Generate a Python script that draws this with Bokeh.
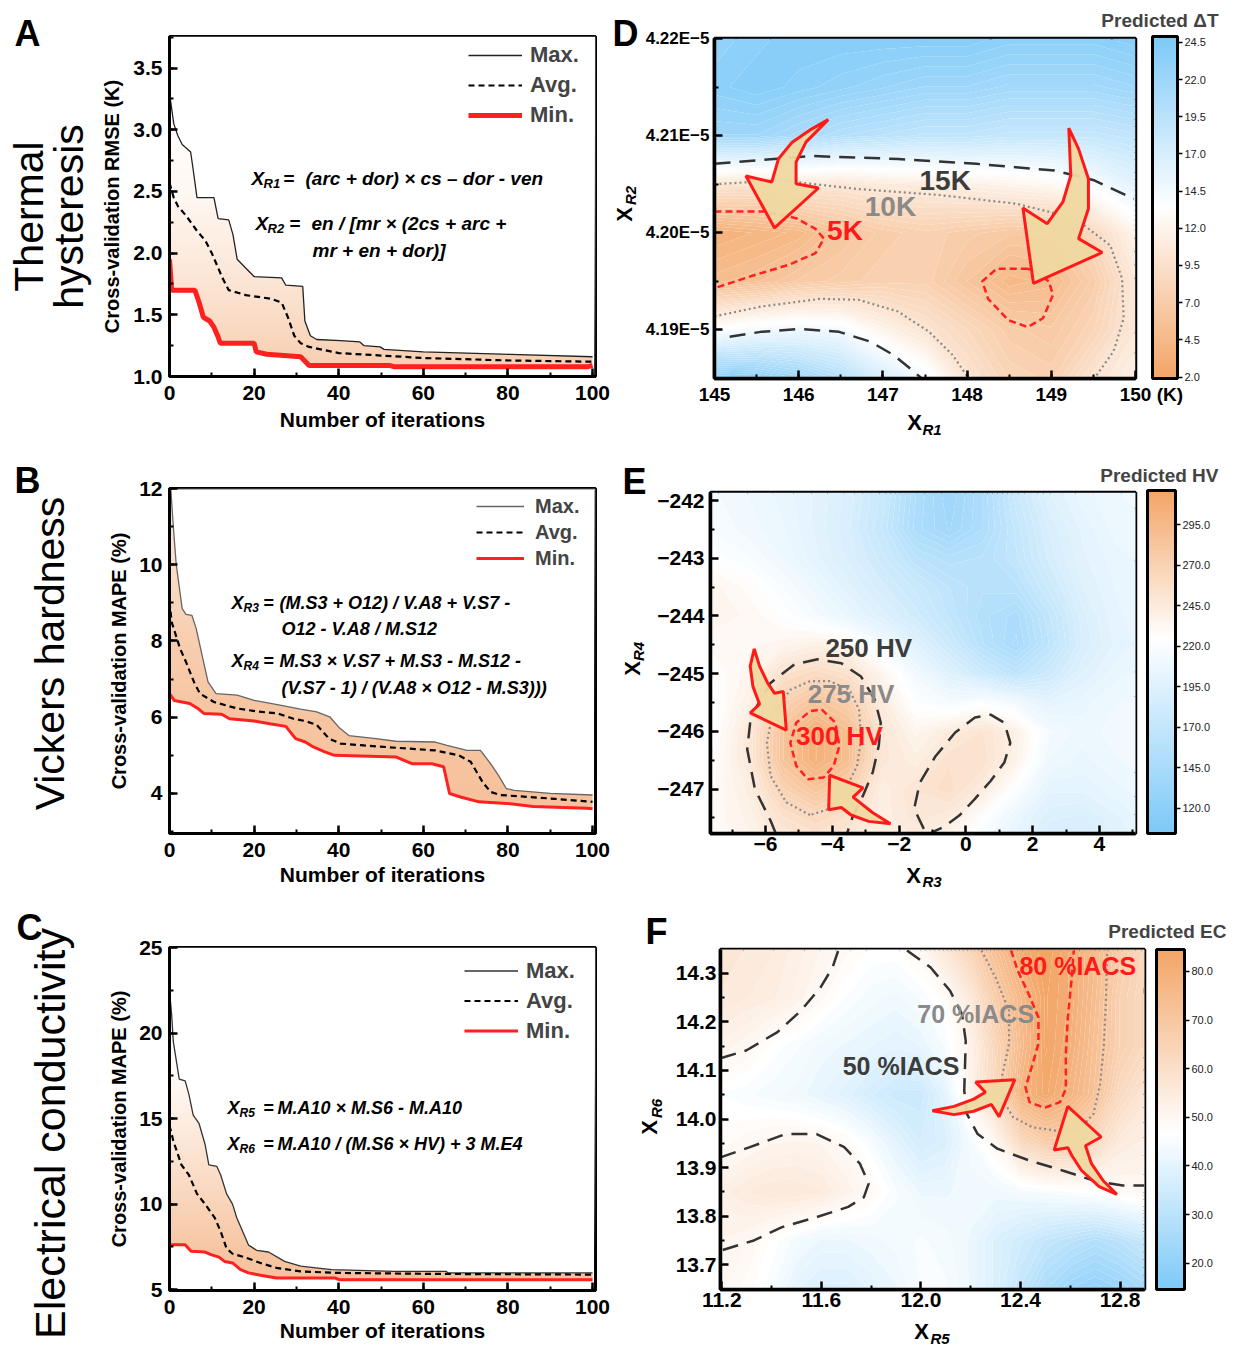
import numpy as np
from bokeh.plotting import figure
from bokeh.models import (Label, Legend, LegendItem, ColorBar, LinearColorMapper,
                          FixedTicker, SingleIntervalTicker, PrintfTickFormatter, Span)
from bokeh.layouts import column, row
from bokeh.embed import file_html
from bokeh.resources import INLINE

SANS = "Liberation Sans"
NARROW = "Liberation Sans Narrow, Liberation Sans"

# ---------------- data: convergence curves ----------------
A_max_x = [0, 1, 2, 3, 5, 5.5, 6.5, 10.5, 11.5, 14, 15, 16, 18, 20, 26.5, 27.5, 31.5, 32, 33.3, 34.8, 40.4, 45, 46, 49.8, 50.7, 60, 80.6, 100]
A_max_y = [3.30, 3.05, 2.95, 2.88, 2.82, 2.70, 2.45, 2.45, 2.28, 2.27, 2.15, 1.95, 1.88, 1.81, 1.80, 1.74, 1.73, 1.45, 1.33, 1.30, 1.29, 1.28, 1.25, 1.24, 1.22, 1.20, 1.18, 1.16]
A_avg_x = [0, 1, 2, 4, 6.5, 8.5, 10, 11.5, 12.5, 14, 18, 24, 26.5, 28, 29.5, 31, 33, 40, 50, 60, 80, 100]
A_avg_y = [2.57, 2.45, 2.38, 2.30, 2.18, 2.10, 2.00, 1.88, 1.80, 1.70, 1.66, 1.63, 1.60, 1.48, 1.33, 1.27, 1.24, 1.19, 1.17, 1.15, 1.13, 1.12]
A_min_x = [0, 0.5, 6, 7, 8, 9.5, 10.5, 11.5, 12, 20, 20.5, 23, 27, 31, 33, 52, 53, 99, 100]
A_min_y = [1.95, 1.70, 1.70, 1.60, 1.48, 1.45, 1.40, 1.32, 1.27, 1.27, 1.20, 1.18, 1.17, 1.16, 1.09, 1.09, 1.08, 1.08, 1.09]

B_max_x = [0, 0.3, 0.9, 1.6, 3.0, 3.9, 5.3, 6.3, 7.7, 9.1, 11, 16, 20, 25.5, 31, 34.8, 38, 40, 42.4, 48.8, 53.5, 62.8, 65.6, 70.3, 73.5, 75.9, 77.8, 79.6, 81.5, 90, 100]
B_max_y = [12.3, 12.0, 11.0, 10.0, 8.85, 8.7, 8.67, 8.33, 7.63, 6.93, 6.62, 6.58, 6.44, 6.33, 6.21, 6.14, 6.0, 5.74, 5.52, 5.44, 5.37, 5.35, 5.26, 5.13, 5.13, 4.78, 4.47, 4.13, 4.08, 4.0, 3.96]
B_avg_x = [0, 0.5, 2.5, 3.9, 5.8, 7.2, 10.5, 16, 20.8, 25.5, 29.3, 32.1, 34.8, 37.7, 40.4, 46, 53.5, 62.8, 68.4, 71.2, 74, 75.9, 78.2, 91, 100]
B_avg_y = [9.03, 8.5, 7.8, 7.45, 6.92, 6.62, 6.4, 6.23, 6.15, 6.1, 5.96, 5.9, 5.8, 5.44, 5.31, 5.26, 5.2, 5.13, 5.0, 4.83, 4.3, 4.04, 3.96, 3.86, 3.78]
B_min_x = [0, 1.1, 4.8, 6.7, 8.1, 12.3, 14.2, 20, 23.7, 27.5, 29.8, 32.1, 34, 36.7, 39, 53.5, 57.3, 62, 64.8, 66.2, 69, 73.2, 79.6, 86, 98.6, 100]
B_min_y = [6.62, 6.44, 6.36, 6.23, 6.1, 6.08, 5.96, 5.9, 5.83, 5.76, 5.44, 5.35, 5.22, 5.09, 5.0, 4.96, 4.78, 4.78, 4.7, 4.0, 3.9, 3.78, 3.74, 3.66, 3.61, 3.6]

C_max_x = [0, 0.5, 0.9, 2.3, 3.7, 4.6, 5.6, 7, 8.4, 9.3, 11.2, 12.1, 13.5, 14.9, 15.9, 17.3, 18.7, 20.6, 23.4, 27.2, 31, 34.6, 38.3, 53.2, 65.4, 65.8, 100]
C_max_y = [22.5, 21.1, 19.5, 17.3, 17.2, 16.4, 15.2, 14.7, 13.5, 12.3, 12.2, 11.7, 10.6, 10.0, 9.2, 8.4, 7.6, 7.3, 7.2, 6.65, 6.37, 6.27, 6.17, 6.07, 6.07, 5.98, 5.98]
C_avg_x = [0, 0.9, 2.8, 4.6, 6.5, 8.4, 10.7, 12.1, 13.5, 14.9, 17.7, 21.5, 25.3, 31, 39.2, 62.6, 100]
C_avg_y = [14.6, 13.7, 12.3, 11.7, 10.6, 10.0, 9.2, 8.4, 7.4, 7.1, 6.9, 6.56, 6.27, 6.07, 5.98, 5.92, 5.88]
C_min_x = [0, 3.7, 5.1, 8.4, 9.8, 11.7, 13, 14.9, 16.8, 18.7, 21.5, 25.3, 39.2, 40.1, 100]
C_min_y = [7.63, 7.63, 7.24, 7.2, 7.05, 6.9, 6.65, 6.56, 6.17, 5.98, 5.84, 5.68, 5.68, 5.58, 5.58]

# ---------------- data: heat maps (grid nodes, rows listed top -> bottom) ----------------
D_x_nodes = [145.0, 145.5, 146.0, 146.5, 147.0, 147.5, 148.0, 148.5, 149.0, 149.5, 150.0]
D_y_nodes = [4.220, 4.215, 4.210, 4.205, 4.200, 4.195, 4.190, 4.185]
D_z = [
    [23.0, 23.5, 24.0, 24.0, 24.0, 24.0, 24.0, 23.5, 23.5, 23.5, 24.0],
    [23.5, 24.0, 23.5, 23.0, 22.5, 22.0, 22.0, 21.5, 21.5, 21.5, 22.0],
    [22.0, 22.0, 21.0, 20.0, 19.5, 19.0, 19.0, 18.5, 18.5, 18.5, 19.0],
    [10.0, 9.8, 10.5, 10.3, 10.8, 11.0, 11.5, 12.0, 12.5, 14.0, 16.0],
    [3.5, 4.0, 4.5, 6.0, 7.0, 7.5, 7.0, 6.5, 6.5, 8.5, 12.0],
    [5.0, 5.5, 6.5, 7.0, 7.5, 7.5, 6.0, 4.5, 5.0, 7.0, 10.5],
    [13.5, 14.5, 15.0, 14.5, 12.0, 10.0, 8.5, 7.0, 6.5, 8.0, 10.5],
    [24.0, 23.5, 22.0, 20.0, 17.0, 14.5, 10.0, 8.0, 7.5, 10.0, 11.5],
]
E_x_nodes = [-7.65, -6.5, -5.5, -4.5, -3.5, -2.5, -1.5, -0.5, 0.5, 1.5, 2.5, 3.5, 4.5, 5.5]
E_y_nodes = [-241.86, -242.5, -243.0, -243.5, -244.0, -244.5, -245.0, -245.5, -246.0, -246.5, -247.0, -247.5, -248.0]
E_z = [
    [215, 210, 205, 198, 190, 175, 150, 135, 150, 175, 195, 205, 210, 212],
    [218, 212, 207, 198, 188, 172, 148, 138, 150, 170, 188, 200, 208, 210],
    [225, 218, 210, 200, 190, 178, 162, 155, 158, 168, 185, 198, 205, 208],
    [235, 228, 218, 208, 196, 185, 175, 165, 158, 160, 178, 195, 203, 206],
    [236, 232, 225, 215, 205, 193, 182, 168, 155, 148, 168, 190, 202, 205],
    [230, 232, 235, 240, 235, 215, 196, 178, 158, 145, 165, 188, 200, 205],
    [225, 235, 255, 262, 255, 235, 212, 195, 178, 165, 178, 195, 205, 208],
    [222, 240, 270, 285, 275, 245, 222, 215, 222, 212, 200, 205, 210, 212],
    [222, 248, 285, 305, 290, 250, 235, 245, 252, 240, 215, 208, 212, 212],
    [225, 248, 285, 305, 290, 250, 242, 255, 255, 238, 210, 205, 210, 212],
    [228, 242, 270, 285, 272, 242, 252, 258, 245, 222, 200, 200, 205, 210],
    [230, 238, 255, 262, 255, 242, 250, 245, 225, 205, 192, 190, 198, 205],
    [230, 235, 245, 250, 245, 240, 242, 232, 215, 200, 188, 185, 195, 202],
]
F_x_nodes = [11.195, 11.3, 11.4, 11.5, 11.6, 11.7, 11.8, 11.9, 12.0, 12.1, 12.2, 12.3, 12.4, 12.5, 12.6, 12.7, 12.8, 12.9]
F_y_nodes = [14.35, 14.25, 14.15, 14.05, 13.95, 13.85, 13.75, 13.649]
F_z = [
    [57, 56, 55, 53, 51, 49, 47, 47, 50, 57, 65, 73, 81, 85, 81, 75, 68, 63],
    [56, 55, 54, 52, 49, 46, 44, 43, 45, 48, 56, 68, 76, 84, 81, 74, 66, 62],
    [52, 50, 47, 45, 43, 42, 41, 40, 41, 45, 52, 64, 75, 84, 80, 73, 66, 62],
    [46, 45, 44, 43, 41, 39, 36, 34, 34, 40, 52, 63, 78, 83, 78, 72, 62, 57],
    [48, 49.5, 51, 51.5, 51, 49, 45, 40, 36, 38, 44, 50, 62, 67, 67, 62, 55, 53],
    [53, 55, 56, 56, 55, 52, 49, 45, 42, 42, 43, 43, 44, 45, 46, 47, 49, 50],
    [51, 50, 47, 44, 42, 42, 43, 44, 45, 44, 42, 38, 35, 32, 30, 28, 30, 33],
    [50, 48, 45, 40, 38, 38, 40, 42, 45, 45, 42, 38, 32, 26, 22, 20, 22, 25],
]

# contour paths
D_c15_top_x = [145.0, 146.16, 147.18, 148.11, 149.04, 149.51, 149.88, 149.98]
D_c15_top_y = [4.2071, 4.2079, 4.2076, 4.2071, 4.2064, 4.2054, 4.2039, 4.2035]
D_c10_top_x = [145.0, 145.78, 146.71, 147.65, 148.58, 149.28, 149.70, 149.84, 149.86, 149.74, 149.51]
D_c10_top_y = [4.2050, 4.2054, 4.2045, 4.2039, 4.2030, 4.2015, 4.1987, 4.1953, 4.1912, 4.1878, 4.1850]
D_c10_bot_x = [145.0, 145.55, 146.25, 146.71, 147.18, 147.55, 147.83, 148.02]
D_c10_bot_y = [4.1914, 4.1924, 4.1932, 4.1931, 4.1919, 4.1898, 4.1874, 4.1850]
D_c15_bot_x = [145.18, 145.55, 146.02, 146.48, 146.85, 147.13, 147.37, 147.46]
D_c15_bot_y = [4.1893, 4.1898, 4.1901, 4.1898, 4.1888, 4.1874, 4.1857, 4.1850]
D_c5_left_x = [145.0, 145.6, 145.97, 146.2, 146.3, 146.2, 145.88, 145.46, 145.0]
D_c5_left_y = [4.2022, 4.2022, 4.2015, 4.2004, 4.1994, 4.1979, 4.1967, 4.1956, 4.1943]
D_c5_right_x = [148.72, 148.35, 148.18, 148.25, 148.49, 148.72, 148.90, 149.02, 148.97, 148.81, 148.72]
D_c5_right_y = [4.1963, 4.1963, 4.1950, 4.1932, 4.1910, 4.1903, 4.1912, 4.1936, 4.1950, 4.1960, 4.1963]

E_c250a_x = [-5.70, -5.85, -6.32, -6.55, -6.44, -5.85, -5.14, -4.44, -3.73, -3.14, -2.73, -2.55, -2.61, -2.79, -3.08, -3.38, -3.55]
E_c250a_y = [-247.76, -247.55, -247.0, -246.31, -245.74, -245.16, -244.84, -244.75, -244.82, -245.05, -245.45, -245.85, -246.25, -246.71, -247.11, -247.46, -247.75]
E_c275_x = [-4.67, -5.38, -5.85, -5.96, -5.79, -5.26, -4.67, -4.08, -3.49, -3.20, -3.14, -3.26, -3.61, -4.08, -4.67]
E_c275_y = [-247.45, -247.23, -246.77, -246.20, -245.68, -245.28, -245.13, -245.13, -245.28, -245.62, -246.14, -246.60, -247.00, -247.34, -247.45]
E_c300_x = [-4.32, -3.91, -3.79, -3.96, -4.26, -4.73, -5.08, -5.26, -5.08, -4.67, -4.32]
E_c300_y = [-245.62, -245.85, -246.25, -246.60, -246.80, -246.83, -246.60, -246.20, -245.85, -245.65, -245.62]
E_c250b_x = [-1.26, -1.55, -1.38, -0.91, -0.32, 0.27, 0.74, 1.15, 1.33, 1.15, 0.74, 0.27, -0.20, -0.67, -1.02]
E_c250b_y = [-247.69, -247.34, -246.89, -246.43, -246.02, -245.76, -245.71, -245.85, -246.20, -246.54, -246.86, -247.17, -247.46, -247.66, -247.75]

F_c50a_x = [11.195, 11.298, 11.424, 11.518, 11.597, 11.645, 11.668]
F_c50a_y = [14.125, 14.141, 14.179, 14.223, 14.271, 14.312, 14.347]
F_c50b_x = [11.944, 12.039, 12.117, 12.165, 12.180, 12.177, 12.174, 12.184, 12.228, 12.307, 12.433, 12.575, 12.701, 12.811, 12.898]
F_c50b_y = [14.347, 14.312, 14.264, 14.216, 14.161, 14.107, 14.059, 14.011, 13.969, 13.939, 13.915, 13.893, 13.872, 13.863, 13.863]
F_c50c_x = [11.195, 11.313, 11.455, 11.581, 11.692, 11.755, 11.790, 11.771, 11.708, 11.581, 11.440, 11.329, 11.195]
F_c50c_y = [13.921, 13.942, 13.969, 13.969, 13.942, 13.908, 13.867, 13.839, 13.819, 13.798, 13.777, 13.750, 13.729]
F_c70_x = [12.243, 12.299, 12.354, 12.354, 12.325, 12.330, 12.370, 12.448, 12.543, 12.638, 12.693, 12.720, 12.735, 12.743, 12.748]
F_c70_y = [14.347, 14.292, 14.223, 14.155, 14.086, 14.038, 14.004, 13.983, 13.976, 13.980, 14.011, 14.072, 14.155, 14.244, 14.347]
F_c80_x = [12.362, 12.389, 12.433, 12.472, 12.472, 12.445, 12.420, 12.436, 12.496, 12.559, 12.582, 12.582, 12.590, 12.606, 12.614]
F_c80_y = [14.347, 14.305, 14.257, 14.209, 14.155, 14.107, 14.065, 14.035, 14.023, 14.035, 14.062, 14.134, 14.209, 14.292, 14.347]

# annotation arrows (outlines in data units)
D_arrow1_x = [146.351, 146.156, 145.923, 145.760, 145.680, 145.373, 145.713, 146.235, 145.969, 145.969, 146.086]
D_arrow1_y = [4.21165, 4.2107, 4.20933, 4.20762, 4.20522, 4.20584, 4.2005, 4.20461, 4.20505, 4.20727, 4.20933]
D_arrow2_x = [149.208, 149.324, 149.441, 149.441, 149.324, 149.604, 148.788, 148.663, 148.952, 149.138, 149.231]
D_arrow2_y = [4.21076, 4.20864, 4.20556, 4.20248, 4.19940, 4.19797, 4.19479, 4.20255, 4.20094, 4.20317, 4.20590]
E_arrow1_x = [-6.34, -6.18, -5.94, -5.73, -5.47, -5.38, -6.46, -6.18, -6.38, -6.46]
E_arrow1_y = [-244.57, -244.87, -245.16, -245.34, -245.31, -245.98, -245.68, -245.53, -245.22, -244.87]
E_arrow2_x = [-4.08, -3.08, -3.38, -2.79, -2.26, -2.91, -3.44, -3.73, -4.11]
E_arrow2_y = [-246.76, -246.98, -247.14, -247.41, -247.60, -247.56, -247.45, -247.32, -247.36]
F_arrow1_x = [12.046, 12.133, 12.212, 12.259, 12.220, 12.377, 12.314, 12.283, 12.212, 12.133]
F_arrow1_y = [14.017, 14.026, 14.041, 14.055, 14.076, 14.081, 14.005, 14.030, 14.016, 14.009]
F_arrow2_x = [12.590, 12.724, 12.661, 12.685, 12.732, 12.787, 12.716, 12.645, 12.606, 12.590, 12.535]
F_arrow2_y = [14.026, 13.963, 13.945, 13.908, 13.873, 13.845, 13.861, 13.894, 13.925, 13.941, 13.936]

D_cbar_ticks = [2.0, 4.5, 7.0, 9.5, 12.0, 14.5, 17.0, 19.5, 22.0, 24.5]
E_cbar_ticks = [120, 145, 170, 195, 220, 245, 270, 295]
F_cbar_ticks = [20, 30, 40, 50, 60, 70, 80]
D_yticks = [4.19, 4.20, 4.21, 4.22]
D_ytick_labels = ["4.19E\u22125", "4.20E\u22125", "4.21E\u22125", "4.22E\u22125"]
E_xticks = [-6, -4, -2, 0, 2, 4]
E_yticks = [-247, -246, -245, -244, -243, -242]
F_xticks = [11.2, 11.6, 12.0, 12.4, 12.8]
F_yticks = [13.7, 13.8, 13.9, 14.0, 14.1, 14.2, 14.3]

# ---------------- helpers ----------------
ORANGE = (243, 165, 102)
BLUE = (125, 201, 248)
PEACH = "#f6c29c"


def color_at(v, lo, hi, c_lo, c_hi, mid):
    f = min(max((v - lo) / (hi - lo), 0.0), 1.0)
    if f <= mid:
        t = f / mid
        c = [c_lo[k] + (255 - c_lo[k]) * t for k in range(3)]
    else:
        t = (f - mid) / (1 - mid)
        c = [255 + (c_hi[k] - 255) * t for k in range(3)]
    return "#%02x%02x%02x" % tuple(int(round(x)) for x in c)


def ramp(c_lo, c_hi, mid, n=256):
    return [color_at(i / (n - 1), 0.0, 1.0, c_lo, c_hi, mid) for i in range(n)]


def base_fig(w, h, xr, yr, bl, br, bt, bb, olw=3):
    p = figure(width=w, height=h, x_range=xr, y_range=yr, output_backend="svg",
               toolbar_location=None, min_border_left=bl, min_border_right=br,
               min_border_top=bt, min_border_bottom=bb)
    p.grid.visible = False
    p.outline_line_color = "black"
    p.outline_line_width = olw
    p.outline_line_alpha = 1.0
    for ax in list(p.xaxis) + list(p.yaxis):
        ax.axis_line_width = olw
        ax.major_tick_in = 8
        ax.major_tick_out = 0
        ax.major_tick_line_width = 2.5
        ax.minor_tick_in = 4
        ax.minor_tick_out = 0
        ax.minor_tick_line_width = 2
        ax.major_label_text_font = SANS
        ax.major_label_text_font_style = "bold"
        ax.major_label_text_color = "black"
        ax.axis_label_text_font = SANS
        ax.axis_label_text_font_style = "bold"
        ax.axis_label_text_color = "black"
    return p


def helper(w, h):
    s = figure(width=w, height=h, x_range=(0, 1), y_range=(0, 1), output_backend="svg",
               toolbar_location=None, min_border=0)
    s.axis.visible = False
    s.grid.visible = False
    s.outline_line_color = None
    return s


def lab(p, fl, fb, xr, yr, text, size, color="black", style="bold", align="center",
        baseline="middle", angle=0.0, font=SANS):
    p.add_layout(Label(x=xr - fl, y=fb - yr, x_units="screen", y_units="screen", text=text,
                       text_font=font, text_font_size="%dpx" % size, text_font_style=style,
                       text_color=color, text_align=align, text_baseline=baseline, angle=angle))


def formula(p, fl, fb, xX, y, sub, xsub, xeq, xrest, rest, size):
    lab(p, fl, fb, xX, y, "X", size, style="bold italic", align="left", font=NARROW)
    lab(p, fl, fb, xsub, y + 5, sub, int(size * 0.7), style="bold italic", align="left", font=NARROW)
    lab(p, fl, fb, xeq, y, "=", size, style="bold", align="left", font=NARROW)
    lab(p, fl, fb, xrest, y, rest, size, style="bold italic", align="left", font=NARROW)


def white_gradient(p, x0, x1, y0, y1, stops_y, stops_t, n=160):
    ys = np.linspace(y0, y1, n)
    alpha = 1.0 - np.interp(ys, stops_y, stops_t)
    img = np.empty((n, 1), dtype=np.uint32)
    v = img.view(dtype=np.uint8).reshape((n, 1, 4))
    v[:, 0, 0] = 255
    v[:, 0, 1] = 255
    v[:, 0, 2] = 255
    v[:, 0, 3] = np.clip(alpha * 255, 0, 255).astype(np.uint8)
    p.image_rgba(image=[img], x=x0, y=y0, dw=x1 - x0, dh=y1 - y0)


def conv_panel(p, mx, my, avx, avy, nx, ny, yr, stops_y, stops_t, max_color, min_w):
    p.patch(list(mx) + list(nx)[::-1], list(my) + list(ny)[::-1], fill_color=PEACH, line_color=None)
    white_gradient(p, 0, 100.7, yr[0], yr[1], stops_y, stops_t)
    r1 = p.line(mx, my, line_color=max_color, line_width=1.3)
    r2 = p.line(avx, avy, line_color="black", line_width=2.2, line_dash="6 4")
    r3 = p.line(nx, ny, line_color="#ff2020", line_width=min_w)
    return r1, r2, r3


def add_legend(p, rs, loc, size, gw, gh, spacing, standoff):
    items = [LegendItem(label="Max.", renderers=[rs[0]]),
             LegendItem(label="Avg.", renderers=[rs[1]]),
             LegendItem(label="Min.", renderers=[rs[2]])]
    lg = Legend(items=items, location=loc, orientation="vertical", glyph_width=gw,
                glyph_height=gh, label_height=gh, spacing=spacing, padding=0, margin=0,
                label_standoff=standoff, label_text_font=SANS, label_text_font_style="bold",
                label_text_font_size="%dpx" % size, border_line_color=None,
                background_fill_alpha=0)
    p.add_layout(lg)


def conv_axes(p, yint, ylabel, fmt, ylab_standoff, xlab_standoff):
    p.xaxis.ticker = SingleIntervalTicker(interval=20, num_minor_ticks=2)
    p.yaxis.ticker = SingleIntervalTicker(interval=yint, num_minor_ticks=2)
    p.yaxis.formatter = PrintfTickFormatter(format=fmt)
    p.axis.major_label_text_font_size = "21px"
    p.xaxis.major_label_standoff = 9
    p.yaxis.major_label_standoff = 7
    p.yaxis.axis_label = ylabel
    p.yaxis.axis_label_text_font_size = "20px"
    p.yaxis.axis_label_standoff = ylab_standoff
    p.xaxis.axis_label = "Number of iterations"
    p.xaxis.axis_label_text_font_size = "21px"
    p.xaxis.axis_label_standoff = xlab_standoff


def heat(p, z, xn, yn, lo, hi, c_lo, c_hi, mid, nlev=56):
    Z = np.array(z, dtype=float)
    xs = np.array(xn, dtype=float)
    ys = np.array(yn, dtype=float)
    if ys[0] > ys[-1]:
        ys = ys[::-1]
        Z = Z[::-1, :]
    levels = np.linspace(min(lo, Z.min()) - 0.01, max(hi, Z.max()) + 0.01, nlev + 1)
    mids = 0.5 * (levels[:-1] + levels[1:])
    cols = [color_at(m, lo, hi, c_lo, c_hi, mid) for m in mids]
    p.contour(xs, ys, Z, levels=list(levels), fill_color=cols, line_color=None)


DARK = dict(line_color="#333333", line_width=2.5, line_dash="16 9")
GRAY = dict(line_color="#8a8a8a", line_width=2.2, line_dash="2 3")
RED = dict(line_color="#ff2020", line_width=2.5, line_dash="7 4")
ARROW = dict(fill_color="#efd8a0", fill_alpha=0.95, line_color="#ff1a1a", line_width=3)


def add_cbar(p, mapper, ticks, xoff, width, fh):
    cb = ColorBar(color_mapper=mapper, ticker=FixedTicker(ticks=ticks),
                  formatter=PrintfTickFormatter(format="%.1f"),
                  location=(xoff, 0), width=width, height=fh, padding=0, margin=0,
                  bar_line_color="black", bar_line_width=3, border_line_color=None,
                  background_fill_alpha=0, major_tick_in=0, major_tick_out=5,
                  major_tick_line_color="black", major_tick_line_width=1.5,
                  minor_tick_line_color=None, label_standoff=2,
                  major_label_text_font=NARROW, major_label_text_font_size="11px",
                  major_label_text_color="#222222")
    p.add_layout(cb, "center")


def heat_axes(p, size_x, size_y, sx, sy, title, offset, tstand):
    p.xaxis.major_label_text_font_size = "%dpx" % size_x
    p.yaxis.major_label_text_font_size = "%dpx" % size_y
    p.xaxis.major_label_standoff = sx
    p.yaxis.major_label_standoff = sy
    p.title.text = title
    p.title.align = "right"
    p.title.offset = offset
    p.title.text_font = SANS
    p.title.text_font_style = "bold"
    p.title.text_font_size = "19px"
    p.title.standoff = tstand


# ================= row 1 =================
hA = helper(96, 450)
lab(hA, 0, 450, 27, 33, "A", 36)
lab(hA, 0, 450, 28, 216, "Thermal", 41, style="normal", angle=np.pi / 2)
lab(hA, 0, 450, 68, 216, "hysteresis", 41, style="normal", angle=np.pi / 2)

fA = (169, 376)
pA = base_fig(516, 450, (0, 100.7), (1.0, 3.756), 73, 17, 36, 74)
conv_axes(pA, 0.5, "Cross-validation RMSE (K)", "%.1f", 7, 5)
rA = conv_panel(pA, A_max_x, A_max_y, A_avg_x, A_avg_y, A_min_x, A_min_y, (1.0, 3.756),
                [1.0, 1.2, 1.5, 2.0, 2.5, 3.0, 3.76], [0.8, 0.72, 0.55, 0.32, 0.12, 0.03, 0.0],
                "#222222", 5)
add_legend(pA, rA, (299, 248), 22, 54, 26, 4, 8)
formula(pA, *fA, 251, 178, "R1", 263, 283, 305, "(arc + dor) \u00d7 cs \u2013 dor - ven", 19)
formula(pA, *fA, 255, 223, "R2", 267, 289, 311, "en / [mr \u00d7 (2cs + arc +", 19)
lab(pA, *fA, 312, 250, "mr + en + dor)]", 19, style="bold italic", align="left", font=NARROW)

hD = helper(30, 450)
lab(hD, 612, 450, 625, 33, "D", 36)
lab(hD, 612, 450, 624, 214, "X", 22, angle=np.pi / 2)
lab(hD, 612, 450, 630, 195, "R2", 15, style="bold italic", angle=np.pi / 2)

pD = base_fig(593, 410, (145, 150), (4.185, 4.22), 69, 100, 36, 32, olw=3.5)
heat(pD, D_z, D_x_nodes, D_y_nodes, 1.9, 24.9, ORANGE, BLUE, 0.5)
pD.line(D_c15_top_x, D_c15_top_y, **DARK)
pD.line(D_c15_bot_x, D_c15_bot_y, **DARK)
pD.line(D_c10_top_x, D_c10_top_y, **GRAY)
pD.line(D_c10_bot_x, D_c10_bot_y, **GRAY)
pD.line(D_c5_left_x, D_c5_left_y, **RED)
pD.line(D_c5_right_x, D_c5_right_y, **RED)
pD.patch(D_arrow1_x, D_arrow1_y, **ARROW)
pD.patch(D_arrow2_x, D_arrow2_y, **ARROW)
pD.xaxis.ticker = SingleIntervalTicker(interval=1, num_minor_ticks=2)
pD.xaxis.major_label_overrides = {150: "\u00a0" * 6 + "150 (K)"}
pD.yaxis.ticker = FixedTicker(ticks=D_yticks, minor_ticks=[4.185, 4.195, 4.205, 4.215])
pD.yaxis.major_label_overrides = dict(zip(D_yticks, D_ytick_labels))
heat_axes(pD, 19, 17, 5, 5, "Predicted \u0394T", -83, 15)
for txt, xx, yy, col in [("15K", 147.74, 4.2054, "#3c3c3c"), ("10K", 147.09, 4.2027, "#8a8a8a"),
                         ("5K", 146.55, 4.2002, "#ff1a1a")]:
    pD.add_layout(Label(x=xx, y=yy, text=txt, text_font=SANS, text_font_style="bold",
                        text_font_size="28px", text_color=col, text_align="center",
                        text_baseline="middle"))
D_mapper = LinearColorMapper(palette=ramp(ORANGE, BLUE, 0.5), low=1.9, high=24.9)
add_cbar(pD, D_mapper, D_cbar_ticks, 438, 25, 342)

sD = helper(593, 40)
lab(sD, 642, 450, 914, 422, "X", 22)
lab(sD, 642, 450, 922, 429, "R1", 15, style="bold italic", align="left")

# ================= row 2 =================
hB = helper(96, 445)
lab(hB, 0, 900, 27, 480, "B", 36)
lab(hB, 0, 900, 49, 653, "Vickers hardness", 41, style="normal", angle=np.pi / 2)

fB = (169, 833)
pB = base_fig(516, 445, (0, 100.7), (2.95, 12.0), 73, 17, 33, 67)
conv_axes(pB, 2, "Cross-validation MAPE (%)", "%d", 6, 3)
rB = conv_panel(pB, B_max_x, B_max_y, B_avg_x, B_avg_y, B_min_x, B_min_y, (2.95, 12.0),
                [2.95, 6, 8, 10, 12], [1.0, 0.95, 0.8, 0.55, 0.3], "#666666", 3)
add_legend(pB, rB, (307, 263), 20, 48, 24, 2, 11)
formula(pB, *fB, 231, 602, "R3", 243, 263, 279, "(M.S3 + O12) / V.A8 + V.S7 -", 18)
lab(pB, *fB, 281, 628, "O12 - V.A8 / M.S12", 18, style="bold italic", align="left", font=NARROW)
formula(pB, *fB, 231, 660, "R4", 243, 263, 279, "M.S3 \u00d7 V.S7 + M.S3 - M.S12 -", 18)
lab(pB, *fB, 281, 687, "(V.S7 - 1) / (V.A8 \u00d7 O12 - M.S3)))", 18, style="bold italic", align="left", font=NARROW)

hE = helper(38, 445)
lab(hE, 612, 900, 634, 481, "E", 36)
lab(hE, 612, 900, 632, 668, "X", 22, angle=np.pi / 2)
lab(hE, 612, 900, 638, 651, "R4", 15, style="bold italic", angle=np.pi / 2)

pE = base_fig(585, 407, (-7.65, 5.08), (-247.77, -241.86), 60, 100, 35, 29, olw=3.5)
heat(pE, E_z, E_x_nodes, E_y_nodes, 104.5, 316, BLUE, ORANGE, 0.57)
pE.line(E_c250a_x, E_c250a_y, **DARK)
pE.line(E_c250b_x, E_c250b_y, **DARK)
pE.line(E_c275_x, E_c275_y, **GRAY)
pE.line(E_c300_x, E_c300_y, **RED)
pE.patch(E_arrow1_x, E_arrow1_y, **ARROW)
pE.patch(E_arrow2_x, E_arrow2_y, **ARROW)
pE.xaxis.ticker = FixedTicker(ticks=E_xticks, minor_ticks=[-7, -5, -3, -1, 1, 3, 5])
pE.yaxis.ticker = FixedTicker(ticks=E_yticks, minor_ticks=[-247.5, -246.5, -245.5, -244.5, -243.5, -242.5])
pE.xaxis.major_label_overrides = {t: ("\u2212%d" % -t if t < 0 else "%d" % t) for t in E_xticks}
pE.yaxis.major_label_overrides = {t: "\u2212%d" % -t for t in E_yticks}
heat_axes(pE, 21, 21, 3, 6, "Predicted HV", -83, 14)
for txt, xx, yy, col in [("250 HV", -2.91, -244.56, "#3c3c3c"), ("275 HV", -3.44, -245.36, "#8a8a8a"),
                         ("300 HV", -3.79, -246.08, "#ff1a1a")]:
    pE.add_layout(Label(x=xx, y=yy, text=txt, text_font=SANS, text_font_style="bold",
                        text_font_size="26px", text_color=col, text_align="center",
                        text_baseline="middle"))
E_mapper = LinearColorMapper(palette=ramp(BLUE, ORANGE, 0.57), low=104.5, high=316)
add_cbar(pE, E_mapper, E_cbar_ticks, 437, 28, 343)

sE = helper(585, 38)
lab(sE, 650, 900, 913, 875, "X", 22)
lab(sE, 650, 900, 922, 881, "R3", 15, style="bold italic", align="left")

# ================= row 3 =================
hC = helper(96, 444)
lab(hC, 0, 1349, 29, 927, "C", 36)
lab(hC, 0, 1349, 49, 1133, "Electrical conductivity", 43, style="normal", angle=np.pi / 2)

fC = (169, 1290)
pC = base_fig(516, 444, (0, 100.7), (4.95, 25.0), 73, 17, 42, 59)
conv_axes(pC, 5, "Cross-validation MAPE (%)", "%d", 6, 2)
rC = conv_panel(pC, C_max_x, C_max_y, C_avg_x, C_avg_y, C_min_x, C_min_y, (4.95, 25.0),
                [4.95, 7, 10, 13, 16, 18, 25], [1.0, 0.95, 0.7, 0.45, 0.2, 0.05, 0.0], "#333333", 3)
add_legend(pC, rC, (295, 246), 22, 54, 27, 3, 8)
formula(pC, *fC, 227, 1107, "R5", 239, 263, 277, "M.A10 \u00d7 M.S6 - M.A10", 18)
formula(pC, *fC, 227, 1143, "R6", 239, 263, 277, "M.A10 / (M.S6 \u00d7 HV) + 3 M.E4", 18)

hF = helper(56, 444)
lab(hF, 612, 1349, 656, 931, "F", 36)
lab(hF, 612, 1349, 649, 1127, "X", 22, angle=np.pi / 2)
lab(hF, 612, 1349, 656, 1108, "R6", 15, style="bold italic", angle=np.pi / 2)

pF = base_fig(567, 412, (11.195, 12.898), (13.649, 14.349), 52, 91, 44, 28, olw=3.5)
heat(pF, F_z, F_x_nodes, F_y_nodes, 14.6, 84.5, BLUE, ORANGE, 0.46)
pF.line(F_c50a_x, F_c50a_y, **DARK)
pF.line(F_c50b_x, F_c50b_y, **DARK)
pF.line(F_c50c_x, F_c50c_y, **DARK)
pF.line(F_c70_x, F_c70_y, **GRAY)
pF.line(F_c80_x, F_c80_y, **RED)
pF.patch(F_arrow1_x, F_arrow1_y, **ARROW)
pF.patch(F_arrow2_x, F_arrow2_y, **ARROW)
pF.xaxis.ticker = FixedTicker(ticks=F_xticks, minor_ticks=[11.4, 11.8, 12.2, 12.6])
pF.yaxis.ticker = FixedTicker(ticks=F_yticks, minor_ticks=[13.65, 13.75, 13.85, 13.95, 14.05, 14.15, 14.25, 14.35])
pF.xaxis.formatter = PrintfTickFormatter(format="%.1f")
pF.yaxis.formatter = PrintfTickFormatter(format="%.1f")
heat_axes(pF, 21, 21, 3, 4, "Predicted EC", -82, 16)
for txt, xx, yy, col in [("80 %IACS", 12.630, 14.316, "#ff1a1a"), ("70 %IACS", 12.220, 14.216, "#8a8a8a"),
                         ("50 %IACS", 11.920, 14.110, "#3c3c3c")]:
    pF.add_layout(Label(x=xx, y=yy, text=txt, text_font=SANS, text_font_style="bold",
                        text_font_size="25px", text_color=col, text_align="center",
                        text_baseline="middle"))
F_mapper = LinearColorMapper(palette=ramp(BLUE, ORANGE, 0.46), low=14.6, high=84.5)
add_cbar(pF, F_mapper, F_cbar_ticks, 436, 28, 340)

sF = helper(567, 32)
lab(sF, 668, 1349, 921, 1331, "X", 22)
lab(sF, 668, 1349, 930, 1338, "R5", 15, style="bold italic", align="left")


# ---------------- separators ----------------
def separator():
    s = helper(1235, 5)
    s.add_layout(Span(location=0.5, dimension="width", line_color="#444444", line_width=2,
                      line_dash="8 5"))
    return s


# plots are wrapped so that helper strips are never direct siblings of bordered plots
layout = column(
    row(hA, column(pA), hD, column(pD, row(sD))),
    separator(),
    row(hB, column(pB), hE, column(pE, row(sE))),
    separator(),
    row(hC, column(pC), hF, column(pF, row(sF))),
)
open("out.html", "w").write(file_html(layout, INLINE))
